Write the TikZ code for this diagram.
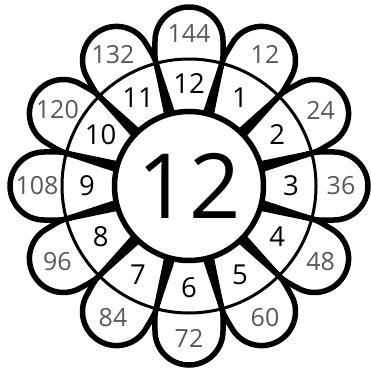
\documentclass[tikz,border=0pt]{standalone}
\usepackage{fontspec}
\setmainfont{Open Sans}
\definecolor{numgray}{HTML}{595959}
\begin{document}
\begin{tikzpicture}[x=1pt,y=1pt,
  petal/.style={draw=black, fill=white, line width=5.5pt, line join=round},
  wedgefill/.style={fill=black},
  ringline/.style={draw=black, line width=3pt},
  centerdisc/.style={circle, draw=black, fill=white, line width=5.5pt, minimum size=149pt, inner sep=0pt, font=\fontsize{90}{90}\selectfont},
  ringnum/.style={font=\fontsize{27.5}{27.5}\selectfont, text=black, inner sep=0pt},
  petalnum/.style={font=\fontsize{25}{25}\selectfont, text=numgray, inner sep=0pt}]
\useasboundingbox (0,-374) rectangle (371,0);
\begin{scope}[shift={(189,-186)}]
  \foreach \k in {1,...,12}{
    \begin{scope}[rotate={90-30*\k}]
      \draw[petal] (57.96,-15.53) -- (122.67,-32.87)
        .. controls (130.4,-34.9) and (137,-34) .. (145,-34)
        arc[start angle=-90, end angle=90, radius=34]
        .. controls (137,34) and (130.4,34.9) .. (122.67,32.87)
        -- (57.96,15.53) -- cycle;
    \end{scope}
  }
  \draw[ringline] (0,0) circle[radius=127];
  \foreach \k in {1,...,12}{
    \begin{scope}[rotate={90-30*\k+15}]
      \fill[wedgefill] (60,-6.5) -- (130,-2.4) -- (130,2.4) -- (60,6.5) -- cycle;
    \end{scope}
  }
  \node[centerdisc] (c) at (0,0) {12};
  \foreach \k in {1,...,12}{
    \pgfmathtruncatemacro\m{12*\k}
    \node[ringnum] (r\k) at ({90-30*\k}:102) {\k};
    \node[petalnum] (p\k) at ({90-30*\k}:152) {\m};
  }
\end{scope}
\end{tikzpicture}
\end{document}
